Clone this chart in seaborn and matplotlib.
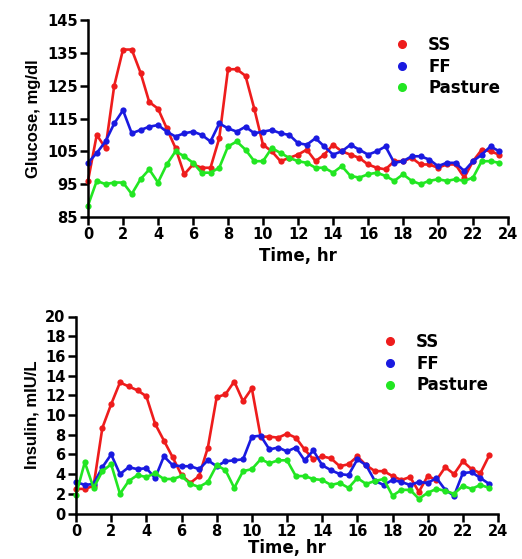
import numpy as np
import pandas as pd
import matplotlib
matplotlib.use("Agg")
import matplotlib.pyplot as plt
from matplotlib.lines import Line2D
import seaborn as sns

# time points (hr), every half hour
time = np.arange(0, 24, 0.5)

# glucose, mg/dl
glu_ss = [96, 110, 106, 125, 136, 136, 129, 120, 118, 112, 106, 98, 101, 100, 100, 109,
          130, 130, 128, 118, 107, 105, 102, 103, 104, 105.5, 102, 104, 107, 105, 104, 103,
          101, 100, 99.5, 102, 102, 103, 101, 101, 100, 101, 101, 97, 102, 105.5, 105, 104]
glu_ff = [101.5, 104.5, 108, 113.5, 117.5, 110.5, 111.5, 112.5, 113, 111, 109.5, 110.5,
          111, 110, 108, 113.5, 112, 111, 112.5, 110.5, 111, 111.5, 110.5, 110, 107.5, 107,
          109, 106.5, 104, 105, 107, 105.5, 104, 105, 106.5, 101.5, 102, 103.5, 103.5, 102.5,
          100.5, 101.5, 101.5, 99, 102, 104, 106.5, 105]
glu_pa = [88.5, 96, 95, 95.5, 95.5, 92, 96.5, 99.5, 95.5, 101, 105, 103.5, 101.5, 98.5,
          98.5, 100, 106.5, 108, 105.5, 102, 102, 106, 104.5, 103, 102, 101.5, 100, 100,
          98.5, 100.5, 97.5, 97, 98, 98.5, 97.5, 96, 98, 96, 95, 96, 96.5, 96, 96.5, 96,
          97, 102, 102, 101.5]

# insulin, mIU/L
ins_ss = [2.5, 2.5, 2.8, 8.7, 11.1, 13.3, 12.9, 12.5, 11.9, 9.1, 7.4, 5.7, 3.9, 3.1, 3.8,
          6.7, 11.8, 12.1, 13.4, 11.4, 12.7, 7.8, 7.8, 7.7, 8.1, 7.7, 6.5, 5.5, 5.8, 5.6,
          4.8, 5.0, 5.8, 4.9, 4.3, 4.3, 3.8, 3.4, 3.7, 2.2, 3.8, 3.4, 4.7, 4.0, 5.3, 4.5,
          4.1, 5.9]
ins_ff = [3.2, 2.9, 3.0, 4.7, 6.0, 4.0, 4.7, 4.5, 4.6, 3.6, 5.8, 4.9, 4.8, 4.8, 4.5, 5.4,
          4.8, 5.3, 5.4, 5.5, 7.8, 7.9, 6.5, 6.7, 6.3, 6.7, 5.4, 6.4, 4.9, 4.4, 4.0, 3.9,
          5.5, 4.9, 3.3, 2.9, 3.4, 3.2, 2.9, 3.2, 3.1, 3.6, 2.4, 1.8, 4.1, 4.2, 3.6, 3.0]
ins_pa = [1.9, 5.2, 2.6, 4.3, 5.0, 2.0, 3.3, 3.9, 3.7, 4.1, 3.5, 3.5, 3.8, 3.0, 2.7, 3.2,
          4.9, 4.4, 2.6, 4.3, 4.5, 5.5, 5.1, 5.4, 5.4, 3.8, 3.8, 3.5, 3.4, 2.9, 3.1, 2.6,
          3.6, 3.0, 3.3, 3.5, 1.8, 2.4, 2.4, 1.5, 2.1, 2.5, 2.3, 2.0, 2.8, 2.5, 2.9, 2.6]

groups = ["SS", "FF", "Pasture"]
colors = {"SS": "#ee1c1c", "FF": "#1a1ae0", "Pasture": "#22e622"}


def long_df(series):
    frames = []
    for g, vals in zip(groups, series):
        frames.append(pd.DataFrame({"time": time, "value": vals, "group": g}))
    return pd.concat(frames, ignore_index=True)


sns.set_style("white")
plt.rcParams["font.family"] = ["DejaVu Sans"]
plt.rcParams["font.weight"] = "bold"
for key in ("text.color", "axes.labelcolor", "xtick.color", "ytick.color"):
    plt.rcParams[key] = "black"

W, H = 522, 559
fig = plt.figure(figsize=(W / 100, H / 100), dpi=100)
ax1 = fig.add_axes([88 / W, 1 - 217 / H, 420 / W, 197 / H])
ax2 = fig.add_axes([76 / W, 1 - 513.5 / H, 422 / W, 197 / H])

# (axes, data, y label, y range, y ticks, legend anchor in pixels, x label pad)
panels = [
    (ax1, long_df([glu_ss, glu_ff, glu_pa]), "Glucose, mg/dl", (85, 145),
     np.arange(85, 146, 10), (394, 36), 3),
    (ax2, long_df([ins_ss, ins_ff, ins_pa]), "Insulin, mIU/L", (0, 20),
     np.arange(0, 21, 2), (382, 333), 0),
]

for ax, df, ylab, ylim, yticks, (lx, ly), xpad in panels:
    sns.lineplot(data=df, x="time", y="value", hue="group", hue_order=groups,
                 palette=colors, marker="o", markersize=4.5, markeredgewidth=0,
                 linewidth=1.9, legend=False, ax=ax)
    ax.set_xlim(0, 24)
    ax.set_ylim(*ylim)
    ax.set_xticks(np.arange(0, 25, 2))
    ax.set_yticks(yticks)
    ax.set_xlabel("Time, hr", fontsize=12, fontweight="bold", labelpad=xpad)
    ax.set_ylabel(ylab, family="Liberation Sans", fontsize=12, fontweight="bold",
                  labelpad=4)
    ax.tick_params(axis="both", direction="out", length=6, width=1.8, labelsize=10.5,
                   pad=1.5, left=True, bottom=True, color="black", labelcolor="black")
    for lab in ax.get_xticklabels() + ax.get_yticklabels():
        lab.set_fontweight("bold")
    sns.despine(ax=ax)
    for s in ("left", "bottom"):
        ax.spines[s].set_linewidth(1.8)
        ax.spines[s].set_color("black")
    for ln in ax.lines:
        ln.set_clip_on(False)
    handles = [Line2D([], [], marker="o", ls="", color=colors[g], markersize=5.5)
               for g in groups]
    ax.legend(handles, groups, loc="upper left", bbox_to_anchor=(lx / W, 1 - ly / H),
              bbox_transform=fig.transFigure, frameon=False,
              prop={"size": 12, "weight": "bold"}, handlelength=1.0,
              handletextpad=1.05, labelspacing=0.22, borderpad=0, borderaxespad=0)

fig.savefig("out.png", dpi=100)
